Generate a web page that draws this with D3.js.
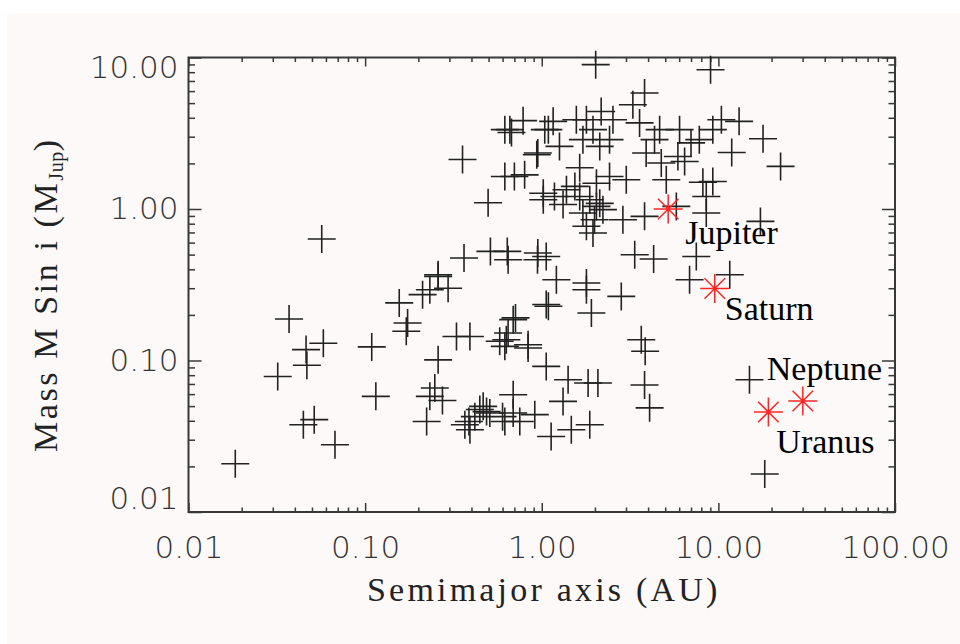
<!DOCTYPE html>
<html>
<head>
<meta charset="utf-8">
<script src="https://cdn.jsdelivr.net/npm/d3@7"></script>
<style>
  body { margin: 0; background: #ffffff; }
  svg { display: block; }
</style>
</head>
<body>
<script>
// known exoplanets: [semimajor axis (AU), M sin i (M_Jup)]
const exoplanets = [
  [0.0568,0.634],[0.356,2.12],[0.497,1.10],[0.618,3.34],[0.674,3.20],[0.784,3.83],
  [0.618,1.64],[0.80,1.68],[0.937,2.28],[1.04,3.34],[1.02,1.15],[0.363,0.475],
  [0.512,0.525],[0.638,0.525],[0.645,0.462],[0.946,0.462],[1.06,0.486],[0.259,0.368],
  [0.0184,0.0208],[0.0371,0.188],[0.032,0.0785],[0.0463,0.118],[0.0468,0.093],[0.058,0.130],
  [0.0447,0.0377],[0.0515,0.0407],[0.0675,0.0278],[0.109,0.123],[0.115,0.058],[0.156,0.240],
  [0.174,0.177],[0.171,0.156],[0.2115,0.272],[0.2325,0.293],[0.259,0.359],[0.295,0.300],
  [0.329,0.144],[0.392,0.144],[0.259,0.101],[0.248,0.0658],[0.2325,0.058],[0.223,0.0396],
  [0.274,0.0545],[0.466,0.0498],[0.487,0.046],[0.446,0.0475],[0.508,0.045],[0.387,0.0396],
  [0.367,0.0377],[0.418,0.0426],[0.392,0.0349],[0.618,0.124],[0.578,0.134],[0.71,0.191],
  [0.645,0.152],[0.837,0.121],[0.689,0.0594],[0.618,0.0396],[0.751,0.0396],[0.913,0.0439],
  [1.06,0.0914],[1.06,0.234],
  [2.02,8.97],[9.03,8.3],[3.82,5.83],[3.28,4.88],[10.4,3.88],[13.1,3.79],[17.9,2.91],
  [11.9,2.36],[22.5,1.91],[8.17,1.50],[9.3,1.52],[8.54,1.21],[8.54,0.941],[17.3,0.828],
  [5.78,1.04],[3.82,0.894],[4.30,0.468],[3.36,0.499],[7.5,0.486],[11.6,0.368],[6.87,0.341],
  [6.03,3.34],[4.65,3.34],[4.35,2.87],[6.44,2.06],[5.9,2.22],[7.0,2.73],[7.8,2.87],[9.3,3.34],
  [3.58,3.70],[3.9,2.34],[5.07,1.56],[4.75,2.01],[3.01,1.56],[2.42,1.64],[2.04,1.48],
  [1.64,1.87],[2.13,2.59],[2.42,2.87],[1.71,2.87],[1.95,3.34],[1.57,3.88],[2.17,4.4],
  [2.53,3.88],[1.79,3.88],[1.16,3.79],[1.09,3.34],[1.26,2.59],[0.95,2.34],[0.66,3.34],[0.70,1.64],
  [1.02,1.27],[1.18,1.21],[1.38,1.34],[1.54,1.41],[1.64,1.21],[1.87,1.15],[2.04,1.04],
  [2.22,0.99],[1.32,1.07],[1.71,0.94],[1.79,0.77],[1.95,0.694],[1.99,0.85],[2.13,1.09],
  [2.88,0.85],[0.95,0.512],[1.21,0.341],[1.79,0.325],
  [1.79,0.293],[2.82,0.265],[1.09,0.228],[1.91,0.206],[0.689,0.186],[0.63,0.137],[0.837,0.127],
  [1.41,0.0747],[1.83,0.071],[2.08,0.071],[3.66,0.137],[3.85,0.115],[3.82,0.0689],[4.08,0.0487],
  [1.32,0.0537],[0.689,0.045],[1.13,0.0315],[1.47,0.0349],[1.87,0.0377],[15.0,0.0747],
  [18.3,0.0178],[0.6,0.0426]
];

// solar system planets
const planetNames = ["Jupiter", "Saturn", "Uranus", "Neptune"];
const planetAU = [5.20, 9.54, 19.19, 30.07];
const planetMass = [1.0, 0.299, 0.0457, 0.054];

const xMajor = [0.01, 0.1, 1, 10, 100];
const yMajor = [0.01, 0.1, 1, 10];

const W = 960, H = 644;
const margin = { top: 57.5, right: 65, bottom: 132, left: 188.5 };
const width = W - margin.left - margin.right;
const height = H - margin.top - margin.bottom;

const svg = d3.select('body').append('svg')
    .attr('width', W)
    .attr('height', H);

svg.append('rect')
    .attr('x', 7).attr('y', 13)
    .attr('width', W - 7).attr('height', H - 13)
    .attr('fill', '#fcf9f8');

const g = svg.append('g')
    .attr('transform', `translate(${margin.left},${margin.top})`);

const x = d3.scaleLog().domain([0.01, 100]).range([0, width]);
const y = d3.scaleLog().domain([0.01, 10]).range([height, 0]);

function minors(majors) {
  const out = [];
  majors.slice(0, -1).forEach(m => {
    for (let k = 2; k <= 9; k++) out.push(m * k);
  });
  return out;
}

const axisColor = '#383838';
const fmt = d3.format('.2f');

function styleAxis(sel) {
  sel.select('.domain').remove();
  sel.selectAll('line').attr('stroke', axisColor).attr('stroke-width', 1.5);
  sel.selectAll('text')
      .attr('fill', '#333')
      .style('font-family', '"DejaVu Sans", sans-serif')
      .style('font-weight', 200)
      .style('font-size', '31px');
}

// x axes (bottom with labels, top without)
g.append('g')
    .attr('transform', `translate(0,${height})`)
    .call(d3.axisBottom(x).tickValues(xMajor).tickFormat(fmt).tickSizeInner(-9).tickSizeOuter(0).tickPadding(24))
    .call(styleAxis);
g.append('g')
    .attr('transform', `translate(0,${height})`)
    .call(d3.axisBottom(x).tickValues(minors(xMajor)).tickFormat('').tickSizeInner(-4.5).tickSizeOuter(0))
    .call(styleAxis);
g.append('g')
    .call(d3.axisTop(x).tickValues(xMajor).tickFormat('').tickSizeInner(-9).tickSizeOuter(0))
    .call(styleAxis);
g.append('g')
    .call(d3.axisTop(x).tickValues(minors(xMajor)).tickFormat('').tickSizeInner(-4.5).tickSizeOuter(0))
    .call(styleAxis);

// y axes (left with labels, right without)
const yLeft = g.append('g')
    .call(d3.axisLeft(y).tickValues(yMajor).tickFormat(fmt).tickSizeInner(-13).tickSizeOuter(0).tickPadding(10))
    .call(styleAxis);
yLeft.selectAll('text')
    .attr('dy', d => d === 10 ? '0.65em' : d === 0.01 ? '-0.12em' : '0.32em');
g.append('g')
    .call(d3.axisLeft(y).tickValues(minors(yMajor)).tickFormat('').tickSizeInner(-6.5).tickSizeOuter(0))
    .call(styleAxis);
g.append('g')
    .attr('transform', `translate(${width},0)`)
    .call(d3.axisLeft(y).tickValues(yMajor).tickFormat('').tickSizeInner(13).tickSizeOuter(0))
    .call(styleAxis);
g.append('g')
    .attr('transform', `translate(${width},0)`)
    .call(d3.axisLeft(y).tickValues(minors(yMajor)).tickFormat('').tickSizeInner(6.5).tickSizeOuter(0))
    .call(styleAxis);

g.append('rect')
    .attr('width', width).attr('height', height)
    .attr('fill', 'none')
    .attr('stroke', axisColor)
    .attr('stroke-width', 2);

// exoplanets as plus signs
g.append('g')
  .selectAll('path')
  .data(exoplanets)
  .enter()
  .append('path')
    .attr('transform', d => `translate(${x(d[0])},${y(d[1])})`)
    .attr('d', 'M-14,0H14M0,-14V14')
    .attr('stroke', '#222')
    .attr('stroke-width', 1.6)
    .attr('fill', 'none');

// solar system planets as red asterisks
const planets = planetNames.map((n, i) => ({ name: n, a: planetAU[i], m: planetMass[i] }));
const r = 14.5, rd = r * Math.SQRT1_2;
g.append('g')
  .selectAll('path')
  .data(planets)
  .enter()
  .append('path')
    .attr('transform', d => `translate(${x(d.a)},${y(d.m)})`)
    .attr('d', `M${-r},0H${r}M0,${-r}V${r}M${-rd},${-rd}L${rd},${rd}M${-rd},${rd}L${rd},${-rd}`)
    .attr('stroke', '#ff2424')
    .attr('stroke-width', 1.5)
    .attr('fill', 'none');

const labelOffset = {
  Jupiter: [17, 35],
  Saturn: [10, 32],
  Uranus: [8, 41],
  Neptune: [-36, -21]
};
g.append('g')
  .selectAll('text')
  .data(planets)
  .enter()
  .append('text')
    .attr('x', d => x(d.a) + labelOffset[d.name][0])
    .attr('y', d => y(d.m) + labelOffset[d.name][1])
    .style('font-family', '"Liberation Serif", serif')
    .style('font-size', '34px')
    .attr('fill', '#000')
    .text(d => d.name);

// axis titles
svg.append('text')
    .attr('x', margin.left + width / 2 + 2)
    .attr('y', 601)
    .attr('text-anchor', 'middle')
    .style('font-family', '"Liberation Serif", serif')
    .style('font-size', '34px')
    .style('letter-spacing', '3.2px')
    .attr('fill', '#222')
    .text('Semimajor axis (AU)');

const yt = svg.append('text')
    .attr('transform', 'translate(57,452) rotate(-90)')
    .attr('text-anchor', 'start')
    .style('font-family', '"Liberation Serif", serif')
    .style('font-size', '34px')
    .style('letter-spacing', '2.6px')
    .attr('fill', '#222');
yt.append('tspan').text('Mass M Sin i (M');
yt.append('tspan').attr('dy', 6).style('font-size', '20px').style('letter-spacing', '0.5px').text('Jup');
yt.append('tspan').attr('dy', -6).text(')');
</script>
</body>
</html>
